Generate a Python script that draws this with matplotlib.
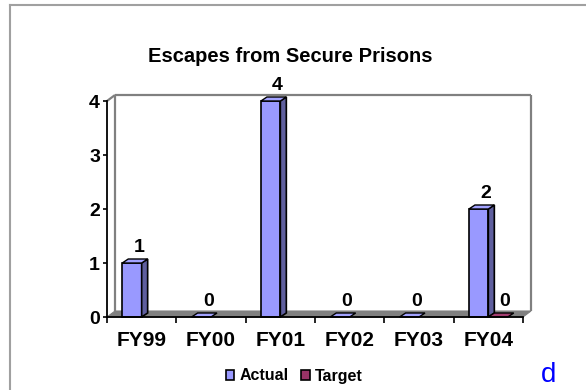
import matplotlib
matplotlib.use("Agg")
import matplotlib.pyplot as plt
from matplotlib.patches import Polygon, Patch
from matplotlib.lines import Line2D

plt.rcParams['font.family'] = ['Liberation Sans', 'DejaVu Sans']

categories = ["FY99", "FY00", "FY01", "FY02", "FY03", "FY04"]
actual = [1, 0, 4, 0, 0, 2]
target = [None, None, None, None, None, 0]
series_names = ["Actual", "Target"]
title = "Escapes from Secure Prisons"
yticks = [0, 1, 2, 3, 4]

W, H, DPI = 586, 390, 100
fig = plt.figure(figsize=(W / DPI, H / DPI), dpi=DPI)
ax = fig.add_axes([107 / W, 73 / H, 416 / W, 216 / H])
n = len(categories)
ax.set_xlim(0, n)
ax.set_ylim(0, 4)

# pixel -> data conversion
px_x = (n - 0) / 416.0
px_y = 4.0 / 216.0

wall_dx, wall_dy = 8 * px_x, 6 * px_y
bar_dx, bar_dy = 6 * px_x, 4 * px_y

gray = "#808080"
# floor
floor = Polygon([(0, 0), (n, 0), (n + wall_dx, wall_dy), (wall_dx, wall_dy)],
                closed=True, facecolor=gray, edgecolor=gray, lw=0.8, clip_on=False, zorder=1)
ax.add_patch(floor)
# back wall edges
wall_kw = dict(color=gray, lw=1.6, clip_on=False, zorder=1, solid_capstyle='butt')
ax.add_line(Line2D([wall_dx, n + wall_dx], [4 + wall_dy, 4 + wall_dy], **wall_kw))
ax.add_line(Line2D([n + wall_dx, n + wall_dx], [wall_dy, 4 + wall_dy], **wall_kw))
ax.add_line(Line2D([wall_dx, wall_dx], [wall_dy, 4 + wall_dy], **wall_kw))
ax.add_line(Line2D([0, wall_dx], [4, 4 + wall_dy], **wall_kw))

w = 0.28
colors = [("#9999FF", "#5F5F9E", "#A3A3FF"), ("#993366", "#5E1F3F", "#A33D70")]


def draw_bar(x0, v, front, side, top):
    x1 = x0 + w
    if v > 0:
        ax.bar(x0, v, width=w, align='edge', color=front, edgecolor='black',
               lw=1.2, zorder=3, clip_on=False)
        ax.add_patch(Polygon([(x1, 0), (x1 + bar_dx, bar_dy), (x1 + bar_dx, v + bar_dy), (x1, v)],
                             closed=True, facecolor=side, edgecolor='black', lw=1.2,
                             zorder=3, clip_on=False))
    ax.add_patch(Polygon([(x0, v), (x1, v), (x1 + bar_dx, v + bar_dy), (x0 + bar_dx, v + bar_dy)],
                         closed=True, facecolor=top, edgecolor='black', lw=1.0,
                         zorder=3, clip_on=False))


label_kw = dict(textcoords='offset points', ha='center', va='center',
                fontsize=14, fontweight='bold', annotation_clip=False, zorder=5)
for i in range(n):
    for s, vals in enumerate([actual, target]):
        v = vals[i]
        if v is None:
            continue
        x0 = i + 0.5 - w + s * w
        front, side, top = colors[s]
        draw_bar(x0, v, front, side, top)
        ax.annotate(str(v), (x0 + w / 2, v), xytext=(7 * 0.72, 16 * 0.72), **label_kw)

# axes styling
for sp in ['top', 'right']:
    ax.spines[sp].set_visible(False)
for sp in ['left', 'bottom']:
    ax.spines[sp].set_color('black')
    ax.spines[sp].set_linewidth(1.3)
    ax.spines[sp].set_zorder(4)
ax.set_yticks(yticks)
ax.set_yticklabels([str(t) for t in yticks], fontsize=14, fontweight='bold')
ax.tick_params(axis='y', direction='out', length=3, width=1.2, pad=2)
ax.set_xticks(range(n + 1))
ax.set_xticklabels([])
ax.tick_params(axis='x', which='major', direction='out', length=4, width=1.2)
ax.set_xticks([i + 0.5 for i in range(n)], minor=True)
ax.set_xticklabels(categories, minor=True, fontsize=15, fontweight='bold')
ax.tick_params(axis='x', which='minor', length=0, pad=10)
ax.patch.set_visible(False)

# title
fig.text(290 / W, 1 - 57 / H, title, ha='center', va='center', fontsize=14.5, fontweight='bold')

# legend
handles = [Patch(facecolor=colors[0][0], edgecolor='black', lw=1.2),
           Patch(facecolor=colors[1][0], edgecolor='black', lw=1.2)]
fig.legend(handles, series_names, loc='center', bbox_to_anchor=(294 / W, 1 - 376 / H),
           ncol=2, frameon=False, handlelength=0.55, handleheight=0.55, handletextpad=0.3,
           columnspacing=0.8, prop={'weight': 'bold', 'size': 11.5})

fig.text(549 / W, 1 - 375 / H, "d", ha='center', va='center', fontsize=20, color='#0000FF')

# outer frame lines
fig.add_artist(Line2D([10 / W, 10 / W], [0, 1 - 5 / H], transform=fig.transFigure, color='#A0A0A0', lw=1.5))
fig.add_artist(Line2D([10 / W, 1], [1 - 5 / H, 1 - 5 / H], transform=fig.transFigure, color='#A0A0A0', lw=1.5))

fig.savefig("out.png", dpi=DPI)
